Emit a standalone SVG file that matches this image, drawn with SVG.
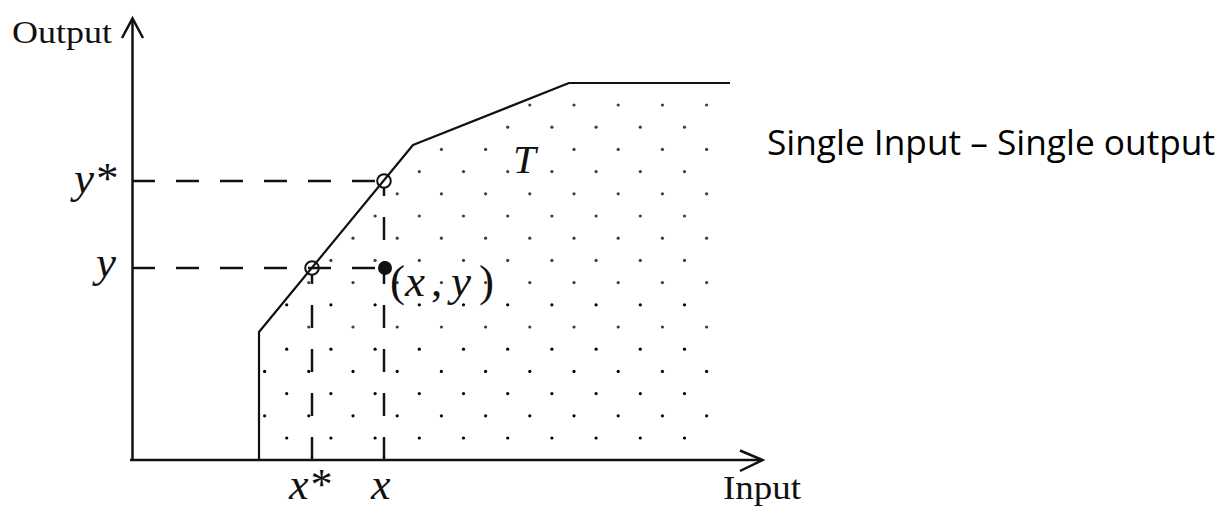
<svg xmlns="http://www.w3.org/2000/svg" xmlns:xlink="http://www.w3.org/1999/xlink" width="1223" height="509" viewBox="0 0 1223 509">
<style>
.ax{stroke:#111;stroke-width:2.5;fill:none}
.fr{stroke:#111;stroke-width:2.2;fill:none;stroke-linejoin:round}
.dash{stroke:#111;stroke-width:2.5;fill:none;stroke-dasharray:23 21}
.dots circle{fill:#3a3f4a}
.serif{font-family:"Liberation Serif","Times New Roman",serif;fill:#111}
.math{font-family:"Liberation Serif","Times New Roman",serif;font-style:italic;fill:#111;font-size:45px}
.up{font-style:normal}
.sans{font-family:"Open Sans","Liberation Sans",sans-serif;fill:#000}
</style>
<defs>
<g id="rowE">
<circle cx="264.6" cy="0" r="1.6"/><circle cx="308.8" cy="0" r="1.6"/><circle cx="353" cy="0" r="1.6"/><circle cx="397.2" cy="0" r="1.6"/><circle cx="441.4" cy="0" r="1.6"/><circle cx="485.6" cy="0" r="1.6"/><circle cx="529.8" cy="0" r="1.6"/><circle cx="574" cy="0" r="1.6"/><circle cx="618.2" cy="0" r="1.6"/><circle cx="662.4" cy="0" r="1.6"/><circle cx="706.6" cy="0" r="1.6"/>
</g>
<g id="rowO">
<circle cx="286.7" cy="0" r="1.6"/><circle cx="330.9" cy="0" r="1.6"/><circle cx="375.1" cy="0" r="1.6"/><circle cx="419.3" cy="0" r="1.6"/><circle cx="463.5" cy="0" r="1.6"/><circle cx="507.7" cy="0" r="1.6"/><circle cx="551.9" cy="0" r="1.6"/><circle cx="596.1" cy="0" r="1.6"/><circle cx="640.3" cy="0" r="1.6"/><circle cx="684.5" cy="0" r="1.6"/>
</g>
</defs>

<g id="dots" class="dots">
<g transform="translate(0,105)"><circle cx="529.8" cy="0" r="1.6"/><circle cx="574" cy="0" r="1.6"/><circle cx="618.2" cy="0" r="1.6"/><circle cx="662.4" cy="0" r="1.6"/><circle cx="706.6" cy="0" r="1.6"/></g>
<g transform="translate(0,127.2)"><circle cx="507.7" cy="0" r="1.6"/><circle cx="551.9" cy="0" r="1.6"/><circle cx="596.1" cy="0" r="1.6"/><circle cx="640.3" cy="0" r="1.6"/><circle cx="684.5" cy="0" r="1.6"/></g>
<g transform="translate(0,149.4)"><circle cx="441.4" cy="0" r="1.6"/><circle cx="485.6" cy="0" r="1.6"/><circle cx="574" cy="0" r="1.6"/><circle cx="618.2" cy="0" r="1.6"/><circle cx="662.4" cy="0" r="1.6"/><circle cx="706.6" cy="0" r="1.6"/></g>
<g transform="translate(0,171.6)"><circle cx="419.3" cy="0" r="1.6"/><circle cx="463.5" cy="0" r="1.6"/><circle cx="507.7" cy="0" r="1.6"/><circle cx="551.9" cy="0" r="1.6"/><circle cx="596.1" cy="0" r="1.6"/><circle cx="640.3" cy="0" r="1.6"/><circle cx="684.5" cy="0" r="1.6"/></g>
<g transform="translate(0,193.8)"><circle cx="397.2" cy="0" r="1.6"/><circle cx="441.4" cy="0" r="1.6"/><circle cx="485.6" cy="0" r="1.6"/><circle cx="529.8" cy="0" r="1.6"/><circle cx="574" cy="0" r="1.6"/><circle cx="618.2" cy="0" r="1.6"/><circle cx="662.4" cy="0" r="1.6"/><circle cx="706.6" cy="0" r="1.6"/></g>
<g transform="translate(0,216)"><circle cx="375.1" cy="0" r="1.6"/><circle cx="419.3" cy="0" r="1.6"/><circle cx="463.5" cy="0" r="1.6"/><circle cx="507.7" cy="0" r="1.6"/><circle cx="551.9" cy="0" r="1.6"/><circle cx="596.1" cy="0" r="1.6"/><circle cx="640.3" cy="0" r="1.6"/><circle cx="684.5" cy="0" r="1.6"/></g>
<g transform="translate(0,238.2)"><circle cx="353" cy="0" r="1.6"/><circle cx="397.2" cy="0" r="1.6"/><circle cx="441.4" cy="0" r="1.6"/><circle cx="485.6" cy="0" r="1.6"/><circle cx="529.8" cy="0" r="1.6"/><circle cx="574" cy="0" r="1.6"/><circle cx="618.2" cy="0" r="1.6"/><circle cx="662.4" cy="0" r="1.6"/><circle cx="706.6" cy="0" r="1.6"/></g>
<g transform="translate(0,260.4)"><circle cx="330.9" cy="0" r="1.6"/><circle cx="375.1" cy="0" r="1.6"/><circle cx="419.3" cy="0" r="1.6"/><circle cx="463.5" cy="0" r="1.6"/><circle cx="507.7" cy="0" r="1.6"/><circle cx="551.9" cy="0" r="1.6"/><circle cx="596.1" cy="0" r="1.6"/><circle cx="640.3" cy="0" r="1.6"/><circle cx="684.5" cy="0" r="1.6"/></g>
<g transform="translate(0,282.6)"><circle cx="308.8" cy="0" r="1.6"/><circle cx="353" cy="0" r="1.6"/><circle cx="397.2" cy="0" r="1.6"/><circle cx="441.4" cy="0" r="1.6"/><circle cx="485.6" cy="0" r="1.6"/><circle cx="529.8" cy="0" r="1.6"/><circle cx="574" cy="0" r="1.6"/><circle cx="618.2" cy="0" r="1.6"/><circle cx="662.4" cy="0" r="1.6"/><circle cx="706.6" cy="0" r="1.6"/></g>
<use xlink:href="#rowO" href="#rowO" y="304.8"/>
<g transform="translate(0,327)"><circle cx="308.8" cy="0" r="1.6"/><circle cx="353" cy="0" r="1.6"/><circle cx="397.2" cy="0" r="1.6"/><circle cx="441.4" cy="0" r="1.6"/><circle cx="485.6" cy="0" r="1.6"/><circle cx="529.8" cy="0" r="1.6"/><circle cx="574" cy="0" r="1.6"/><circle cx="618.2" cy="0" r="1.6"/><circle cx="662.4" cy="0" r="1.6"/><circle cx="706.6" cy="0" r="1.6"/></g>
<use xlink:href="#rowO" href="#rowO" y="349.2"/>
<use xlink:href="#rowE" href="#rowE" y="371.4"/>
<use xlink:href="#rowO" href="#rowO" y="393.6"/>
<use xlink:href="#rowE" href="#rowE" y="415.8"/>
<use xlink:href="#rowO" href="#rowO" y="438"/>
</g>

<g id="connectors">
<path class="dash" d="M132,181 H377"/>
<path class="dash" d="M132,268 H385"/>
<path class="dash" d="M312,460 V275"/>
<path class="dash" d="M384,460 V188"/>
</g>

<g id="axes">
<path class="ax" d="M132.5,461 V19"/>
<path class="ax" d="M122,38 L132.5,18.5 L143,38"/>
<path class="ax" d="M130,460 H762"/>
<path class="ax" d="M740,450.5 L762.5,460 L740,471"/>
<text class="serif" x="12" y="43" font-size="32" textLength="100" lengthAdjust="spacingAndGlyphs">Output</text>
<text class="serif" x="723" y="499" font-size="33" textLength="78" lengthAdjust="spacingAndGlyphs">Input</text>
</g>

<g id="frontier">
<path class="fr" d="M259,460 V332 L413,145 L569,83 H730"/>
<text class="math" x="513" y="173" style="font-size:41px">T</text>
</g>

<g id="point-ystar">
<circle cx="384" cy="181" r="6.8" fill="none" stroke="#111" stroke-width="2"/>
</g>
<g id="point-xstar">
<circle cx="312" cy="268" r="6.8" fill="none" stroke="#111" stroke-width="2"/>
</g>
<g id="point-xy">
<circle cx="385" cy="268" r="7" fill="#111"/>
<text class="math"><tspan class="up" x="390" y="296">(</tspan><tspan x="405" y="296">x</tspan><tspan class="up" x="431" y="296">,</tspan><tspan x="451" y="296">y</tspan><tspan class="up" x="479" y="296">)</tspan></text>
</g>

<g id="labels">
<text class="math" x="74" y="193">y*</text>
<text class="math" x="96" y="277">y</text>
<text class="math" x="289" y="499" style="font-size:44px">x*</text>
<text class="math" x="371" y="499" style="font-size:44px">x</text>
</g>

<g id="title">
<text class="sans" x="767" y="155" font-size="34" textLength="448" lengthAdjust="spacingAndGlyphs">Single Input – Single output</text>
</g>
</svg>
